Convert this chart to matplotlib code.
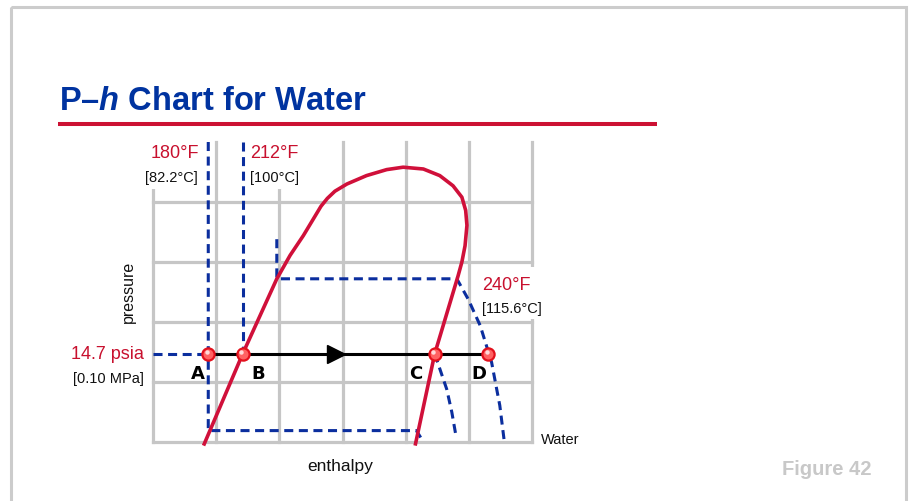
import matplotlib
matplotlib.use("Agg")
import matplotlib.pyplot as plt
from matplotlib.patches import Rectangle
from matplotlib.lines import Line2D
from matplotlib.transforms import Affine2D, ScaledTranslation

# ------------------------------------------------------------------
# Data (enthalpy h and pressure p in chart grid units)
# ------------------------------------------------------------------
GRID_H = [0, 1, 2, 3, 4, 5, 6]
GRID_P = [0, 1, 2, 3, 4]
H_MAX, P_MAX = 6, 5

# saturation dome (liquid line -> critical region -> vapour line)
DOME_H = [0.80, 1.42, 1.96, 2.17, 2.38, 2.54, 2.66, 2.76, 2.88, 3.07, 3.38, 3.70,
          3.96, 4.28, 4.54, 4.75, 4.89, 4.95, 4.97, 4.94, 4.89, 4.83, 4.46, 4.15]
DOME_P = [-0.06, 1.47, 2.72, 3.11, 3.44, 3.72, 3.93, 4.06, 4.18, 4.30, 4.44, 4.54,
          4.58, 4.55, 4.44, 4.27, 4.08, 3.86, 3.61, 3.27, 3.00, 2.77, 1.47, -0.06]

# isotherms (dashed)
T180_H = [0.875, 0.875, 4.17, 4.27]
T180_P = [5.00, 0.19, 0.19, 0.02]
T212_LIQ_H = [1.42, 1.42]
T212_LIQ_P = [5.00, 1.47]
T212_VAP_H = [4.46, 4.65, 4.73, 4.80]
T212_VAP_P = [1.47, 0.88, 0.50, 0.08]
T240_H = [1.96, 1.96, 4.81, 4.99, 5.18, 5.36, 5.49, 5.56]
T240_P = [3.38, 2.72, 2.72, 2.38, 1.94, 1.33, 0.61, 0.02]

# atmospheric isobar (14.7 psia)
P_ATM = 1.47
ATM_DASH_H = [0.0, 0.875]
STATE_NAMES = ["A", "B", "C", "D"]
STATE_H = [0.875, 1.42, 4.46, 5.31]
ARROW_H = 2.90

TITLE = r"P–$\mathit{h}$ Chart for Water"
T_LABELS_F = ["180°F", "212°F", "240°F"]
T_LABELS_C = ["[82.2°C]", "[100°C]", "[115.6°C]"]
P_LABEL = ["14.7 psia", "[0.10 MPa]"]
X_LABEL = "enthalpy"
Y_LABEL = "pressure"
SUBSTANCE = "Water"
FIG_LABEL = "Figure 42"

# ------------------------------------------------------------------
W, H = 909, 502
plt.rcParams["font.family"] = ["Liberation Sans", "DejaVu Sans"]
plt.rcParams["mathtext.fontset"] = "custom"
plt.rcParams["mathtext.it"] = "Liberation Sans:italic:bold"
plt.rcParams["mathtext.rm"] = "Liberation Sans:bold"
plt.rcParams["lines.scale_dashes"] = False

RED = "#d0103a"
RED_TXT = "#c8102e"
BLUE = "#0b2e9e"
GRID = "#c6c6c6"
NAVY = "#0033a0"

fig = plt.figure(figsize=(W / 100, H / 100), dpi=100)
fig.patch.set_facecolor("white")

# pixel -> figure transform (x from left, y from top)
PX = Affine2D().scale(1 / W, -1 / H).translate(0, 1) + fig.transFigure

gx0, gx1, gy0, gy1 = 153, 532, 143, 443
ax = fig.add_axes([gx0 / W, 1 - gy1 / H, (gx1 - gx0) / W, (gy1 - gy0) / H])
ax.set_xlim(0, H_MAX)
ax.set_ylim(0, P_MAX)
ax.axis("off")

# grid
ax.vlines(GRID_H, 0, P_MAX, colors=GRID, lw=2.3, zorder=1, clip_on=False,
          capstyle="projecting")
ax.hlines(GRID_P, 0, H_MAX, colors=GRID, lw=2.3, zorder=1, clip_on=False,
          capstyle="projecting")

# white label backgrounds
for (x0, y0, x1, y1) in [(138, 140, 203, 190), (247, 140, 311, 190), (478, 268, 549, 320)]:
    ax.add_patch(Rectangle((x0, y0), x1 - x0, y1 - y0, transform=PX,
                           facecolor="white", edgecolor="none", zorder=1.5,
                           clip_on=False))

dash = (6.5, 4.0)
dkw = dict(color=BLUE, lw=2.2, dashes=dash, zorder=2, clip_on=False,
           solid_capstyle="butt", dash_capstyle="butt")
ax.plot(T180_H, T180_P, **dkw)
ax.plot(T212_LIQ_H, T212_LIQ_P, **dkw)
ax.plot(T212_VAP_H, T212_VAP_P, **dkw)
ax.plot(T240_H, T240_P, **dkw)
ax.plot(ATM_DASH_H, [P_ATM, P_ATM], **dkw)

# dome
ax.plot(DOME_H, DOME_P, color=RED, lw=2.6, zorder=3, clip_on=False,
        solid_joinstyle="round", solid_capstyle="butt")

# process line with arrow
ax.plot([STATE_H[0], STATE_H[-1]], [P_ATM, P_ATM], color="black", lw=2.2,
        zorder=4, clip_on=False)
ax.plot([ARROW_H], [P_ATM], marker=">", ms=13, color="black", zorder=4.5,
        clip_on=False)

# state points
ax.plot(STATE_H, [P_ATM] * len(STATE_H), "o", ms=8.8, mfc="#ff6262",
        mec="#e3101c", mew=1.6, zorder=5, clip_on=False)
hl = ax.transData + ScaledTranslation(-0.015, 0.015, fig.dpi_scale_trans)
ax.plot(STATE_H, [P_ATM] * len(STATE_H), "o", ms=3.2, mfc="#ffd9d9",
        mec="none", zorder=5.5, clip_on=False, transform=hl)

offsets = [-10, 15, -19, -10]
for name, h, dx in zip(STATE_NAMES, STATE_H, offsets):
    ax.annotate(name, (h, P_ATM), xytext=(dx * 0.72, -24.5 * 0.72),
                textcoords="offset points", ha="center", va="baseline",
                fontsize=13, fontweight="bold", family="DejaVu Sans",
                color="black", annotation_clip=False, zorder=6)

# texts (pixel positions)
def ptxt(x, y, s, **kw):
    ax.text(x, y, s, transform=PX, clip_on=False, zorder=7, **kw)

ptxt(199, 158.5, T_LABELS_F[0], ha="right", va="baseline", color=RED_TXT, fontsize=13)
ptxt(198, 182, T_LABELS_C[0], ha="right", va="baseline", color="#111111", fontsize=10.5)
ptxt(250, 158.5, T_LABELS_F[1], ha="left", va="baseline", color=RED_TXT, fontsize=13)
ptxt(250, 182, T_LABELS_C[1], ha="left", va="baseline", color="#111111", fontsize=10.5)
ptxt(482, 290, T_LABELS_F[2], ha="left", va="baseline", color=RED_TXT, fontsize=13)
ptxt(482, 313, T_LABELS_C[2], ha="left", va="baseline", color="#111111", fontsize=10.5)
ptxt(144, 359, P_LABEL[0], ha="right", va="baseline", color=RED_TXT, fontsize=13)
ptxt(144, 383.5, P_LABEL[1], ha="right", va="baseline", color="#111111", fontsize=10.5)
ptxt(541, 444, SUBSTANCE, ha="left", va="baseline", color="#111111", fontsize=10.5)
ptxt(340, 471, X_LABEL, ha="center", va="baseline", color="#111111", fontsize=12.5)
ptxt(128, 292, Y_LABEL, ha="center", va="center", rotation=90, color="#111111",
     fontsize=11.5)
ptxt(872, 475, FIG_LABEL, ha="right", va="baseline", color="#c8c8c8",
     fontsize=14.5, fontweight="bold")
ptxt(59, 110, TITLE, ha="left", va="baseline", color=NAVY, fontsize=23.5,
     fontweight="bold")

# title underline and outer frame
fig.add_artist(Line2D([58, 657], [124.7, 124.7], transform=PX, color="#cc1133",
                      lw=2.9, solid_capstyle="butt"))
fig.add_artist(Rectangle((10.5, 7.5), 895, 520, transform=PX, facecolor="none",
                         edgecolor="#cccccc", lw=2.2, clip_on=False))

fig.savefig("out.png", dpi=100)
